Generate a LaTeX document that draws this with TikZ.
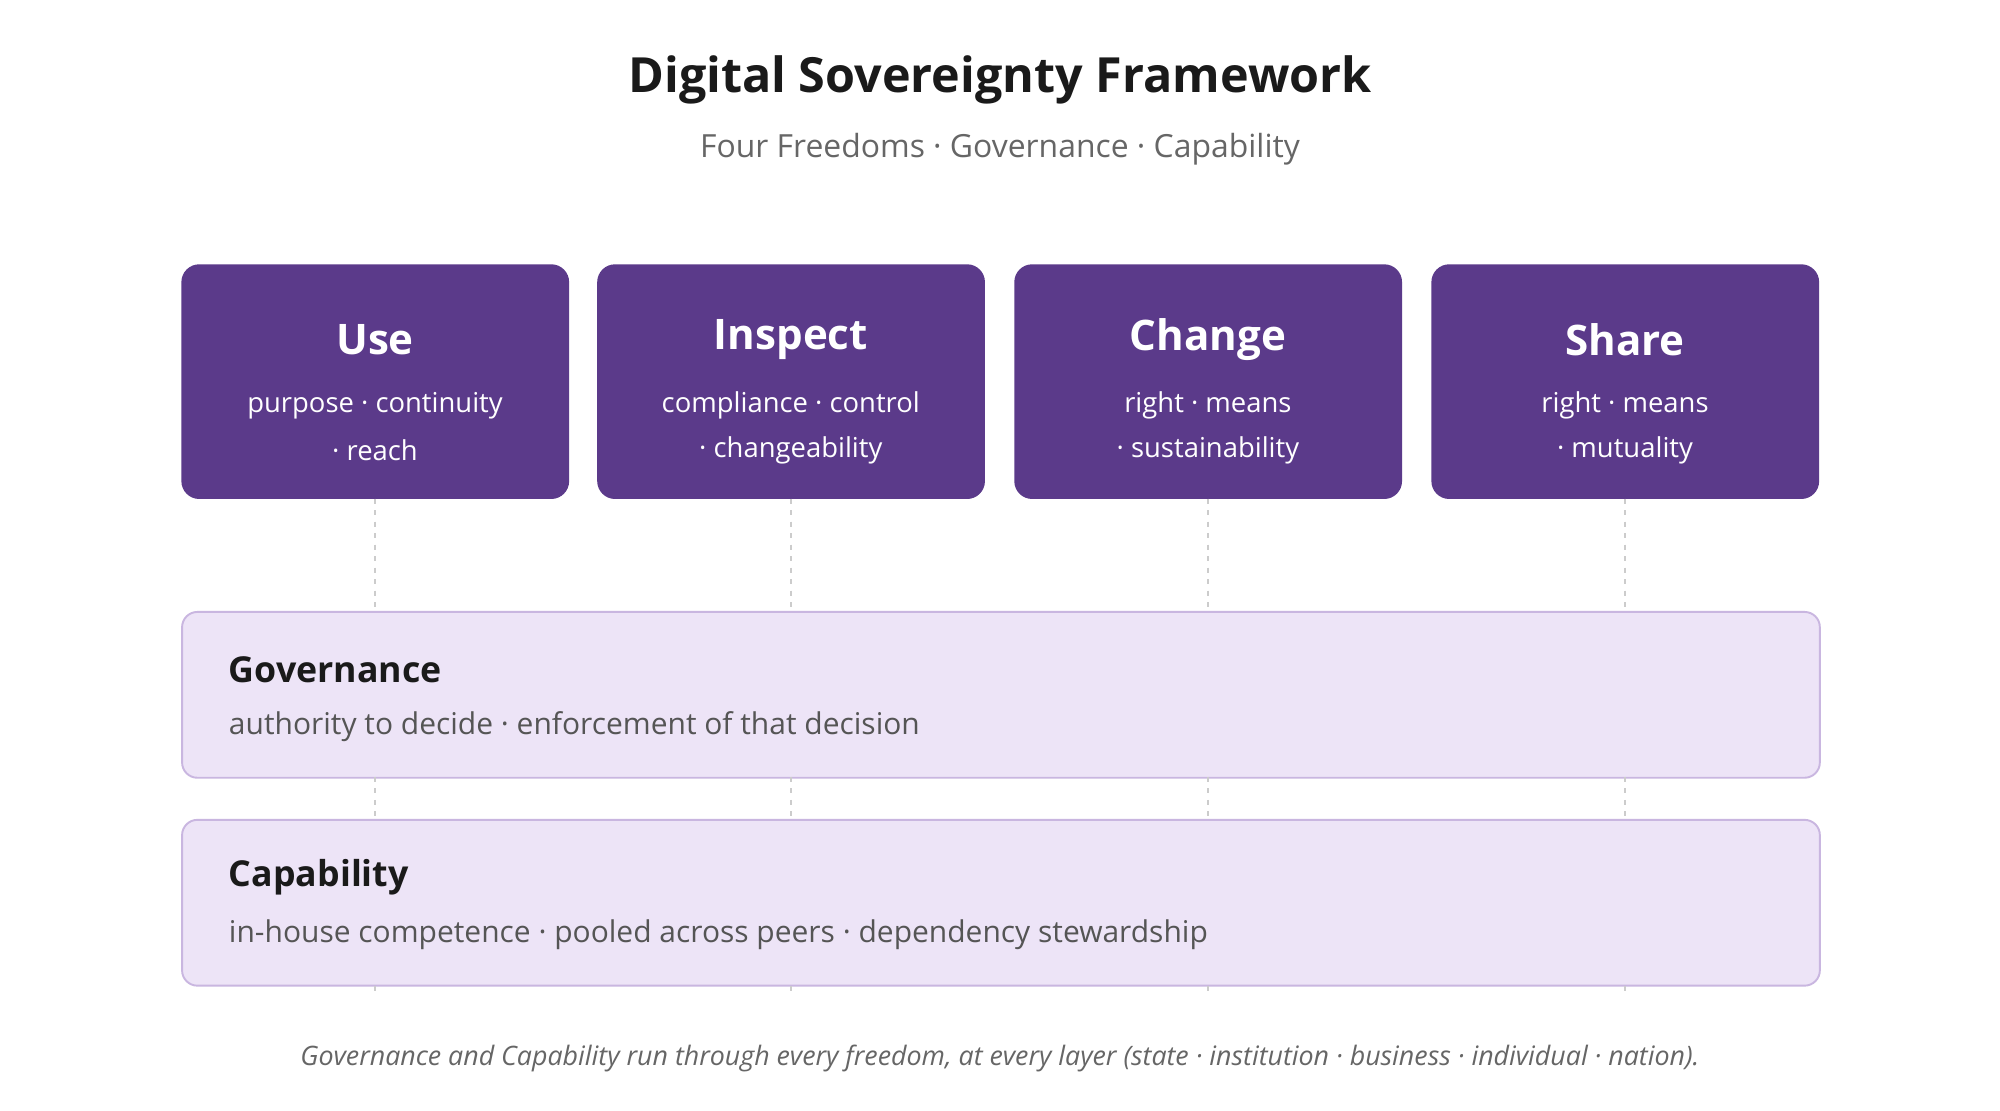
\documentclass[tikz,border=0pt]{standalone}
\usepackage{fontspec}
\setmainfont{Open Sans}
\begin{document}
\begin{tikzpicture}[x=1pt,y=-1pt,
 free/.style={draw=none,fill=freec,rounded corners=14pt,minimum width=304pt,minimum height=184pt,anchor=north west},
 layer/.style={draw=layb,line width=1.5pt,fill=layf,rounded corners=12pt,minimum width=1284pt,minimum height=130pt,anchor=north west},
 ftitle/.style={text=white,font=\fontsize{33}{38}\selectfont\bfseries},
 fsub/.style={text=white,font=\fontsize{21.5}{26}\selectfont,align=center},
 guide/.style={draw=dashc,line width=1.5pt,dash pattern=on 4pt off 5pt}]
\definecolor{freec}{HTML}{5B3A8A}
\definecolor{layf}{HTML}{EDE4F7}
\definecolor{layb}{HTML}{C9B6E0}
\definecolor{dashc}{HTML}{CCCCCC}
\useasboundingbox[fill=white] (0,0) rectangle (1568,871);
\node (title) at (784,63) {\fontsize{38}{44}\selectfont\bfseries\color[HTML]{1A1A1A}Digital Sovereignty Framework};
\node (sub) at (784,117) {\fontsize{25}{30}\selectfont\color[HTML]{666666}Four Freedoms · Governance · Capability};
\foreach \n/\x/\t/\a/\b in {u/142/Use/purpose · continuity/· reach, i/468/Inspect/compliance · control/· changeability, c/795/Change/right · means/· sustainability, s/1122/Share/right · means/· mutuality}{
  \node[free] (\n) at (\x,207) {};
  \node[ftitle] (\n t) at (\x+152,266) {\t};
  \node[fsub] (\n a) at (\x+152,318) {\a};
  \node[fsub] (\n b) at (\x+152,353) {\b};
}
\node[layer] (gov) at (142,479) {};
\node[layer] (cap) at (142,642) {};
\foreach \n/\x in {u/294,i/620,c/947,s/1274}{
  \coordinate (\n1) at (\x,391); \coordinate (\n2) at (\x,479);
  \coordinate (\n3) at (\x,609); \coordinate (\n4) at (\x,642);
  \coordinate (\n5) at (\x,773); \coordinate (\n6) at (\x,779);
  \draw[guide] (\n1) -- (\n2); \draw[guide] (\n3) -- (\n4); \draw[guide] (\n5) -- (\n6);
}
\node[anchor=west] (govt) at (176,525) {\fontsize{28}{32}\selectfont\bfseries\color[HTML]{1A1A1A}Governance};
\node[anchor=west] (govs) at (176,570) {\fontsize{23.5}{28}\selectfont\color[HTML]{555555}authority to decide · enforcement of that decision};
\node[anchor=west] (capt) at (176,688) {\fontsize{28}{32}\selectfont\bfseries\color[HTML]{1A1A1A}Capability};
\node[anchor=west] (caps) at (176,733) {\fontsize{23.5}{28}\selectfont\color[HTML]{555555}in-house competence · pooled across peers · dependency stewardship};
\node (foot) at (784,830) {\fontsize{21}{25}\selectfont\itshape\color[HTML]{666666}Governance and Capability run through every freedom, at every layer (state · institution · business · individual · nation).};
\end{tikzpicture}
\end{document}
